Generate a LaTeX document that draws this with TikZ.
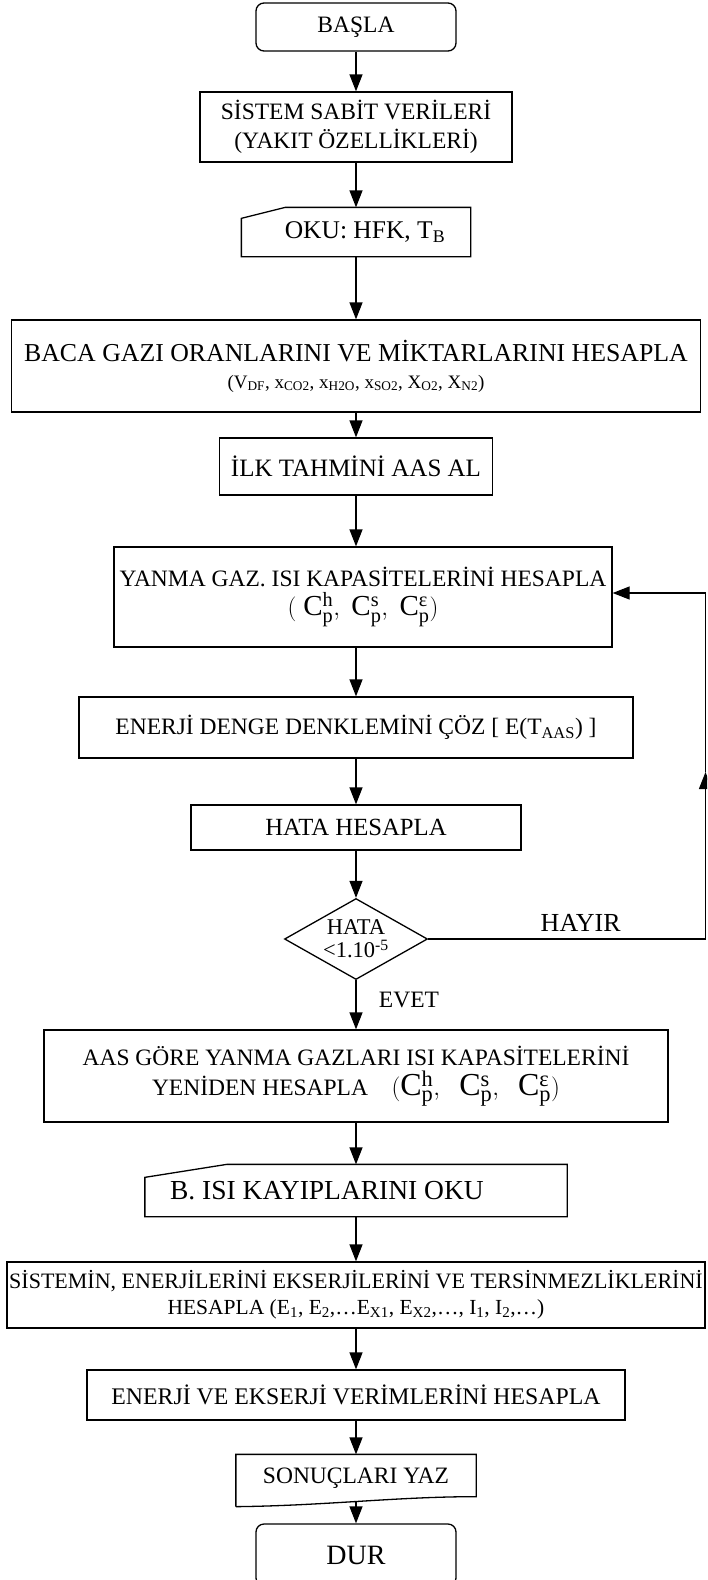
\documentclass[tikz,border=0pt]{standalone}
\usepackage{amsmath}
\usepackage{fontspec}
\setmainfont{Liberation Serif}
\usetikzlibrary{shapes.geometric,arrows.meta}

\newcommand{\cpset}[1]{\mathrm{C}^{\mathrm{h}}_{\mathrm{p}},#1\mathrm{C}^{\mathrm{s}}_{\mathrm{p}},#1\mathrm{C}^{\text{ε}}_{\mathrm{p}}}

\begin{document}
\begin{tikzpicture}[x=1pt,y=-1pt,line width=1.3pt,>={Triangle[length=17pt,width=13pt]},
    font=\fontsize{23.5}{29}\selectfont]

    \clip (0,0) rectangle (707,1580);
    \fill[white] (0,0) rectangle (707,1580);

    \begin{scope}[every node/.style={rectangle,draw,line width=1.3pt,inner sep=0pt,align=center}]
        \node[rounded corners=8pt,minimum width=200pt,minimum height=48pt] (1) at (356,27) {BAŞLA}; % Start node
        \node[minimum width=312pt,minimum height=70pt] (2) at (356,127) {SİSTEM SABİT VERİLERİ\\(YAKIT ÖZELLİKLERİ)};
        \node[draw=none,minimum width=228pt,minimum height=48pt,font=\fontsize{25.5}{29}\selectfont] (3) at (356,232) {\hspace*{18pt}OKU: HFK, T\textsubscript{B}}; % Input
        \node[minimum width=689pt,minimum height=92pt] (4) at (356,366) {{\fontsize{25.8}{29}\selectfont BACA GAZI ORANLARINI VE MİKTARLARINI HESAPLA}\\[-2pt]
            {\fontsize{19}{22}\selectfont(V\textsubscript{DF}, x\textsubscript{CO2}, x\textsubscript{H2O}, x\textsubscript{SO2}, X\textsubscript{O2}, X\textsubscript{N2})}};
        \node[minimum width=273pt,minimum height=57pt,font=\fontsize{25}{29}\selectfont] (5) at (356,466.5) {İLK TAHMİNİ AAS AL};
        \node[minimum width=498pt,minimum height=100pt] (6) at (363,597) {YANMA GAZ. ISI KAPASİTELERİNİ HESAPLA\\[0pt]
            {\fontsize{29}{32}\selectfont$(\;\cpset{\ })$}};
        \node[minimum width=554pt,minimum height=61pt] (7) at (356,727.5) {ENERJİ DENGE DENKLEMİNİ ÇÖZ [ E(T\textsubscript{AAS}) ]};
        \node[minimum width=330pt,minimum height=45pt,font=\fontsize{24.7}{29}\selectfont] (8) at (356,827.5) {HATA HESAPLA};
        \node[diamond,aspect=1.76,minimum width=143pt,minimum height=81pt,font=\fontsize{22.5}{23}\selectfont] (9) at (356,939) {HATA\\<1.10\textsuperscript{-5}}; % Check
        \node[minimum width=624pt,minimum height=92pt] (10) at (356,1076) {AAS GÖRE YANMA GAZLARI ISI KAPASİTELERİNİ\\[1pt]
            YENİDEN HESAPLA\quad{\fontsize{32}{34}\selectfont$(\cpset{\ \;})$}};
        \node[draw=none,minimum width=421pt,minimum height=51pt,font=\fontsize{27.5}{30}\selectfont] (11) at (356,1190.5) {B. ISI KAYIPLARINI OKU\hspace*{58pt}}; % Input
        \node[minimum width=698pt,minimum height=66pt,font=\fontsize{22}{26}\selectfont] (12) at (356,1295) {SİSTEMİN, ENERJİLERİNİ EKSERJİLERİNİ VE TERSİNMEZLİKLERİNİ\\
            {\fontsize{21.5}{26}\selectfont HESAPLA (E\textsubscript{1}, E\textsubscript{2},\dots E\textsubscript{X1}, E\textsubscript{X2},\dots, I\textsubscript{1}, I\textsubscript{2},\dots)}};
        \node[minimum width=538pt,minimum height=50pt,font=\fontsize{23.8}{29}\selectfont] (13) at (356,1395) {ENERJİ VE EKSERJİ VERİMLERİNİ HESAPLA};
        \node[draw=none,minimum width=239pt,minimum height=46pt] (14) at (356,1478) {SONUÇLARI YAZ}; % Output
        \node[rounded corners=8pt,minimum width=200pt,minimum height=62pt,font=\fontsize{28}{30}\selectfont] (15) at (356,1555) {DUR}; % Stop node
    \end{scope}

    % manual input and document outlines
    \draw ([yshift=-11pt]3.north west) -- ([xshift=44pt]3.north west) -- (3.north east) -- (3.south east) -- (3.south west) -- cycle;
    \draw ([yshift=-13pt]11.north west) -- ([xshift=82pt]11.north west) -- (11.north east) -- (11.south east) -- (11.south west) -- cycle;
    \draw ([yshift=-5pt]14.south west) -- (14.north west) -- (14.north east) -- ([yshift=5pt]14.south east)
        .. controls ([xshift=-80pt,yshift=5pt]14.south east) and ([xshift=90pt,yshift=-4pt]14.south west) .. ([yshift=-5pt]14.south west);

    \begin{scope}[every edge/.style={draw,line width=1.3pt}]
        \path [->] (1) edge (2);
        \path [->] (2) edge (3);
        \path [->] (3) edge (4);
        \path [->] (4) edge (5);
        \path [->] (5) edge (5 |- 6.north);
        \path [->] (6.south -| 5) edge (7);
        \path [->] (7) edge (8);
        \path [->] (8) edge (9);
        \path [->] (9) edge node[right=19pt,pos=0.4] {EVET} (10);
        \path [->] (10) edge (11);
        \path [->] (11) edge (12);
        \path [->] (12) edge (13);
        \path [->] (13) edge (14);
        \path [->] (14) edge (15);
    \end{scope}

    % back to the heat capacities
    \coordinate (r1) at (705.5,939);
    \coordinate (r2) at (705.5,772);
    \coordinate (r3) at (705.5,593);
    \draw (9.east) -- node[above=4pt,pos=0.55,font=\fontsize{26}{28}\selectfont] {HAYIR} (r1);
    \draw[->] (r1) -- (r2);
    \draw[->] (r2) -- (r3) -- (r3 -| 6.east);

\end{tikzpicture}
\end{document}
